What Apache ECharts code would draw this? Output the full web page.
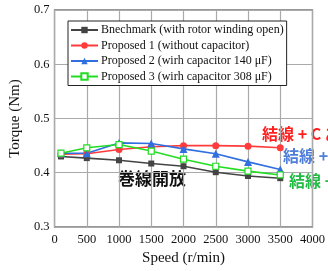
<!DOCTYPE html>
<html><head><meta charset="utf-8">
<script src="https://cdn.jsdelivr.net/npm/echarts@6/dist/echarts.min.js"></script>
<style>html,body{margin:0;padding:0;background:#fff}#c{width:328px;height:271px}</style>
</head><body><div id="c"></div>
<script>
const speeds = [100, 500, 1000, 1500, 2000, 2500, 3000, 3500];
const benchmark = [0.430, 0.427, 0.423, 0.417, 0.412, 0.401, 0.394, 0.390];
const proposed1 = [0.434, 0.435, 0.443, 0.448, 0.450, 0.450, 0.449, 0.446];
const proposed2 = [0.436, 0.436, 0.455, 0.454, 0.444, 0.435, 0.420, 0.406];
const proposed3 = [0.436, 0.446, 0.452, 0.440, 0.425, 0.412, 0.403, 0.396];
const names = ['Bnechmark (with rotor winding open)', 'Proposed 1 (without capacitor)', 'Proposed 2 (wirh capacitor 140 \u03bcF)', 'Proposed 3 (wirh capacitor 308 \u03bcF)'];
const xTicks = [0, 500, 1000, 1500, 2000, 2500, 3000, 3500, 4000];
const yTicks = [0.3, 0.4, 0.5, 0.6, 0.7];

const serif = '"Liberation Serif", "DejaVu Serif", serif';
const cjk = '"Noto Sans CJK JP", sans-serif';
function pairs(v){ return speeds.map((s,i)=>[s,v[i]]); }
function ser(name, data, color, symbol, size, fill){
  return {name, type:'line', data:pairs(data), symbol, symbolSize:size,
    lineStyle:{color, width:1.6}, itemStyle:{color:fill||color, borderColor:color, borderWidth: fill?1.2:0},
    emphasis:{disabled:true}, z: 3};
}
const chart = echarts.init(document.getElementById('c'));
chart.setOption({
  animation:false,
  grid:{left:52, right:15, top:10, bottom:44, show:true, borderColor:'#333', borderWidth:1.2},
  legend:{orient:'vertical', left:68, top:21, itemWidth:27, itemHeight:8, itemGap:3.5,
    padding:[3,3,3,2], backgroundColor:'#fff', borderColor:'#222', borderWidth:1,
    textStyle:{fontFamily:serif, fontSize:12, color:'#111', padding:[0,0,0,-2]},
    data:names},
  xAxis:{type:'value', min:0, max:4000, interval:500,
    name:'Speed (r/min)', nameLocation:'middle', nameGap:22,
    nameTextStyle:{fontFamily:serif, fontSize:15, color:'#111'},
    axisLine:{show:false}, axisTick:{show:false},
    axisLabel:{fontFamily:serif, fontSize:12.5, color:'#111', margin:6,
      formatter:v=>xTicks.includes(v)?String(v):''},
    splitLine:{show:true, lineStyle:{color:'#aaa', width:1.2}}},
  yAxis:{type:'value', min:0.3, max:0.7, interval:0.1,
    name:'Torque (Nm)', nameLocation:'middle', nameGap:30,
    nameTextStyle:{fontFamily:serif, fontSize:15, color:'#111'},
    axisLine:{show:false}, axisTick:{show:false},
    axisLabel:{fontFamily:serif, fontSize:12.5, color:'#111', margin:5,
      formatter:v=>{const t=yTicks.find(y=>Math.abs(y-v)<1e-6);return t!==undefined?t.toFixed(1):'';}},
    splitLine:{show:true, lineStyle:{color:'#aaa', width:1.2}}},
  series:[
    ser(names[0], benchmark, '#444', 'rect', 6),
    ser(names[1], proposed1, '#ff3b3b', 'circle', 7),
    ser(names[2], proposed2, '#2f6fe0', 'triangle', 8),
    ser(names[3], proposed3, '#22dd22', 'rect', 6, '#fff')
  ],
  graphic:[
    {type:'text', left:262, top:126, style:{text:'結線 + C あり', fontFamily:cjk, fontWeight:'bold', fontSize:16, fill:'#ff1f1f'}},
    {type:'text', left:283, top:148, style:{text:'結線 + C 140μF', fontFamily:cjk, fontWeight:'bold', fontSize:16, fill:'#4f7fd8'}},
    {type:'text', left:289, top:173, style:{text:'結線 + C 308μF', fontFamily:cjk, fontWeight:'bold', fontSize:16, fill:'#22bb44'}},
    {type:'text', left:118, top:170, style:{text:'巻線開放', fontFamily:cjk, fontWeight:'bold', fontSize:17, fill:'#111'}}
  ]
});
</script></body></html>
